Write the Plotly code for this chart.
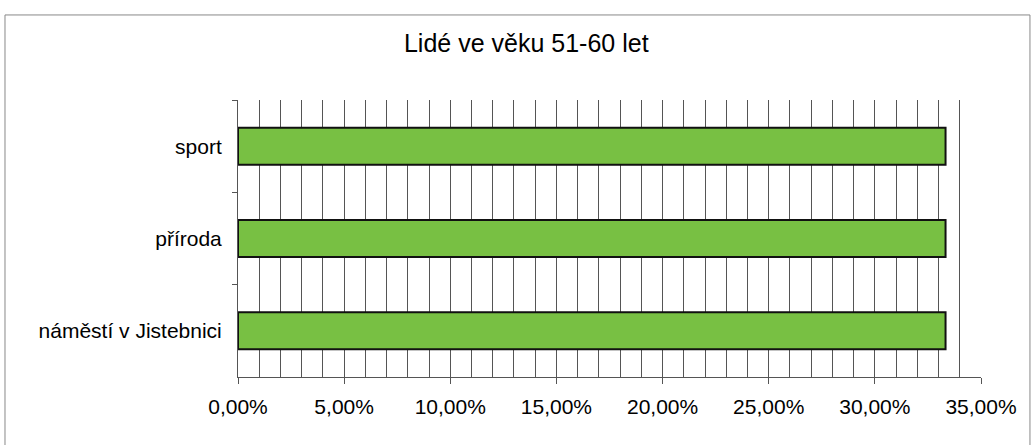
import plotly.graph_objects as go

categories = ["sport", "příroda", "náměstí v Jistebnici"]
shares = [0.3333, 0.3333, 0.3333]

title = "Lidé ve věku 51-60 let"
font = "Liberation Sans, Arial, sans-serif"

fig = go.Figure(go.Bar(
    x=shares, y=categories, orientation="h",
    marker=dict(color="#78c043", line=dict(color="#111111", width=2)),
    hoverinfo="x+y",
))

fig.update_layout(
    width=1036, height=445,
    margin=dict(l=238, r=55, t=100, b=68),
    paper_bgcolor="white", plot_bgcolor="white",
    separators=", ",
    bargap=0.6,
    showlegend=False,
    font=dict(family=font, size=21, color="#000000"),
    title=dict(text=title, x=0.508, xanchor="center", y=0.902, yanchor="middle",
               font=dict(family=font, size=25, color="#000000")),
    xaxis=dict(
        range=[0, 0.35], dtick=0.05, tickformat=".2%",
        showgrid=True, gridcolor="#555555", gridwidth=1,
        minor=dict(dtick=0.01, showgrid=True, gridcolor="#555555", gridwidth=1),
        ticks="outside", ticklen=6, tickcolor="#555555",
        showline=True, linecolor="#555555", linewidth=1,
        ticklabelstandoff=5, zeroline=False, automargin=False,
    ),
    yaxis=dict(
        autorange="reversed", tickson="boundaries",
        ticks="outside", ticklen=5, tickcolor="#555555",
        showline=True, linecolor="#555555", linewidth=1,
        showgrid=False, ticklabelstandoff=11, automargin=False,
    ),
)

# outer frame of the chart
fig.add_shape(type="rect", xref="paper", yref="paper",
              x0=-0.3136, x1=1.0659, y0=-0.27, y1=1.307,
              line=dict(color="#888888", width=1), layer="below")

# drop the browser's default page margin so the chart sits at the window edge
fig.write_html("out.html", config={"displayModeBar": False},
               post_script="document.body.style.margin='0';")
